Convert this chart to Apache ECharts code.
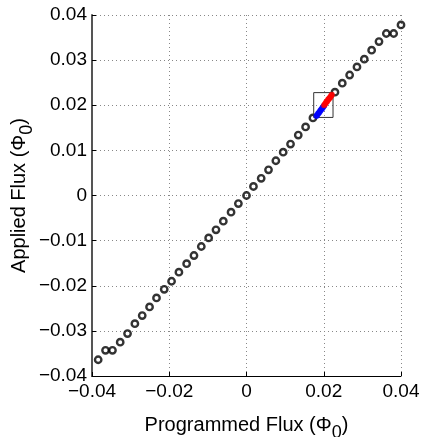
<!DOCTYPE html>
<html>
<head>
<meta charset="utf-8">
<script src="https://cdn.jsdelivr.net/npm/echarts@6/dist/echarts.min.js"></script>
<style>
html,body{margin:0;padding:0;background:#fff;}
#c{width:423px;height:437px;}
</style>
</head>
<body>
<div id="c"></div>
<script>
// Programmed flux (x) and applied flux (y), units of Phi_0
const progFlux = [-0.0384,-0.0365,-0.0347,-0.0327,-0.0308,-0.0289,-0.0270,-0.0251,-0.0233,-0.0213,
  -0.0194,-0.0175,-0.0155,-0.0136,-0.0117,-0.0098,-0.0079,-0.0060,-0.0040,-0.0021,
  0.0000,0.0018,0.0038,0.0057,0.0076,0.0095,0.0114,0.0134,0.0153,0.0172,
  0.0229,0.0248,0.0267,0.0286,0.0305,0.0324,0.0343,0.0362,0.0381,0.0400];
const appliedFlux = [-0.0364,-0.0343,-0.0343,-0.0325,-0.0306,-0.0284,-0.0266,-0.0247,-0.0227,-0.0208,
  -0.0190,-0.0170,-0.0151,-0.0133,-0.0113,-0.0094,-0.0076,-0.0057,-0.0037,-0.0018,
  0.0000,0.0020,0.0038,0.0057,0.0077,0.0096,0.0114,0.0134,0.0152,0.0172,
  0.0229,0.0249,0.0267,0.0285,0.0302,0.0322,0.0341,0.0359,0.0359,0.0378];
// zoomed-in measurement (blue: lower half, red: upper half)
const blueX = [0.0181,0.0183,0.0185,0.0187,0.0189,0.0191,0.0193,0.0195,0.0197,0.0199,0.0201];
const blueY = [0.0176,0.0178,0.0181,0.0183,0.0185,0.0188,0.0190,0.0192,0.0194,0.0197,0.0199];
const redX = [0.0201,0.0203,0.0205,0.0207,0.0209,0.0211,0.0213,0.0215,0.0217,0.0219,0.0221];
const redY = [0.0200,0.0202,0.0205,0.0207,0.0209,0.0212,0.0214,0.0216,0.0218,0.0221,0.0223];
// highlight box corners
const boxX = [0.0174,0.0224,0.0224,0.0174,0.0174];
const boxY = [0.0173,0.0173,0.0228,0.0228,0.0173];
// ticks
const xTicks = [-0.04,-0.02,0,0.02,0.04];
const yTicks = [-0.04,-0.03,-0.02,-0.01,0,0.01,0.02,0.03,0.04];

const FONT = 'Liberation Sans';
const zip = (a,b) => a.map((v,i)=>[v,b[i]]);
const fmt = v => {
  if (Math.abs(v) < 1e-9) return '0';
  const s = Math.abs(v).toFixed(2);
  return (v < 0 ? '\u2212' : '') + s;
};

const chart = echarts.init(document.getElementById('c'), null, {renderer:'canvas'});
chart.setOption({
  backgroundColor:'#fff',
  animation:false,
  grid:{left:92,right:22,top:15,bottom:61,containLabel:false,outerBoundsMode:'none'},
  xAxis:{
    type:'value', min:-0.04, max:0.04, interval:0.02,
    name:'{a|Programmed Flux (\u03A6}{s|0}{a|)}',
    nameLocation:'middle', nameGap:39, nameMoveOverlap:false,
    nameTextStyle:{rich:{
      a:{fontFamily:FONT,fontSize:20,color:'#000',verticalAlign:'top'},
      s:{fontFamily:FONT,fontSize:18,color:'#000',verticalAlign:'bottom',padding:[9,0,0,0]}
    }},
    axisLine:{show:true,onZero:false,lineStyle:{color:'#000',width:1}},
    axisTick:{show:true,inside:true,length:4,lineStyle:{color:'#000'}},
    axisLabel:{fontFamily:FONT,fontSize:19,color:'#000',margin:6,formatter:fmt},
    splitLine:{show:true,lineStyle:{color:'#888',type:[1,3],width:1}}
  },
  yAxis:{
    type:'value', min:-0.04, max:0.04, interval:0.01,
    name:'{a|Applied Flux (\u03A6}{s|0}{a|)}',
    nameLocation:'middle', nameGap:56, nameRotate:90, nameMoveOverlap:false,
    nameTextStyle:{rich:{
      a:{fontFamily:FONT,fontSize:20,color:'#000',verticalAlign:'top'},
      s:{fontFamily:FONT,fontSize:18,color:'#000',verticalAlign:'bottom',padding:[9,0,0,0]}
    }},
    axisLine:{show:true,onZero:false,lineStyle:{color:'#555',width:2}},
    axisTick:{show:true,inside:true,length:4,lineStyle:{color:'#000'}},
    axisLabel:{fontFamily:FONT,fontSize:19,color:'#000',margin:5,formatter:fmt},
    splitLine:{show:true,lineStyle:{color:'#888',type:[1,3],width:1}}
  },
  series:[
    {type:'scatter',data:zip(progFlux,appliedFlux),symbol:'circle',symbolSize:6.4,
      itemStyle:{color:'rgba(255,255,255,0)',borderColor:'#000',borderWidth:2.4},z:2},
    {type:'line',data:zip(boxX,boxY),symbol:'none',lineStyle:{color:'#333',width:1},z:3},
    {type:'scatter',data:zip(blueX,blueY),symbolSize:6,itemStyle:{color:'#0000ff'},z:4},
    {type:'scatter',data:zip(redX,redY),symbolSize:6,itemStyle:{color:'#ff0000'},z:4}
  ]
});
</script>
</body>
</html>
